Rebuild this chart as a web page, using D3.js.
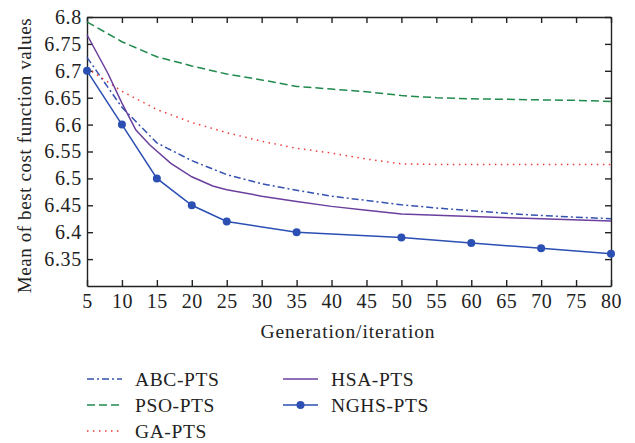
<!DOCTYPE html>
<html>
<head>
<meta charset="utf-8">
<script src="https://cdn.jsdelivr.net/npm/d3@7"></script>
<style>
  body { margin: 0; background: #fff; }
  text { font-family: "Liberation Serif", "Times New Roman", serif; fill: #222; }
</style>
</head>
<body>
<div id="vis-container"></div>
<script>
// chart size and plot box
const width = 635;
const height = 443;
const margin = { left: 87, right: 24, top: 17, bottom: 157 };

// data
const xTicks = [5, 10, 15, 20, 25, 30, 35, 40, 45, 50, 55, 60, 65, 70, 75, 80];
const yTicks = [6.35, 6.4, 6.45, 6.5, 6.55, 6.6, 6.65, 6.7, 6.75, 6.8];

const abcX = [5, 10, 15, 20, 25, 30, 35, 40, 45, 50, 55, 60, 65, 70, 75, 80];
const abcY = [6.725, 6.632, 6.566, 6.533, 6.507, 6.49, 6.478, 6.467, 6.459, 6.451, 6.445, 6.44, 6.435, 6.431, 6.428, 6.425];

const psoX = [5, 10, 15, 20, 25, 30, 35, 40, 45, 50, 55, 60, 65, 70, 75, 80];
const psoY = [6.791, 6.754, 6.726, 6.709, 6.694, 6.683, 6.671, 6.666, 6.661, 6.654, 6.65, 6.648, 6.647, 6.646, 6.645, 6.643];

const gaX = [5, 10, 15, 20, 25, 30, 35, 40, 45, 50, 55, 60, 65, 70, 75, 80];
const gaY = [6.705, 6.662, 6.628, 6.604, 6.585, 6.569, 6.556, 6.547, 6.536, 6.527, 6.526, 6.526, 6.526, 6.526, 6.526, 6.526];

const hsaX = [5, 8, 10, 12, 14, 17, 20, 23, 25, 30, 35, 40, 45, 50, 60, 70, 80];
const hsaY = [6.767, 6.695, 6.64, 6.59, 6.562, 6.528, 6.503, 6.486, 6.479, 6.467, 6.457, 6.448, 6.441, 6.434, 6.429, 6.425, 6.421];

const nghsX = [5, 10, 15, 20, 25, 35, 50, 60, 70, 80];
const nghsY = [6.70, 6.60, 6.50, 6.45, 6.42, 6.40, 6.39, 6.38, 6.37, 6.36];

const seriesNames = ["ABC-PTS", "PSO-PTS", "GA-PTS", "HSA-PTS", "NGHS-PTS"];

const series = [
  { name: seriesNames[0], x: abcX, y: abcY, color: "#3552b0", dash: "7,3,2,3", marker: false },
  { name: seriesNames[1], x: psoX, y: psoY, color: "#1f8a4c", dash: "8,4", marker: false },
  { name: seriesNames[2], x: gaX, y: gaY, color: "#f03a3a", dash: "1.5,4.5", marker: false },
  { name: seriesNames[3], x: hsaX, y: hsaY, color: "#6a3f9e", dash: null, marker: false },
  { name: seriesNames[4], x: nghsX, y: nghsY, color: "#2b4fb3", dash: null, marker: true }
];

const svg = d3.select("#vis-container")
  .append("svg")
  .attr("width", width)
  .attr("height", height);

const xScale = d3.scaleLinear()
  .domain([5, 80])
  .range([margin.left, width - margin.right]);

const yScale = d3.scaleLinear()
  .domain([6.3, 6.8])
  .range([height - margin.bottom, margin.top]);

const plotW = width - margin.left - margin.right;
const plotH = height - margin.top - margin.bottom;

// axes with inward ticks on all four sides
svg.append("g")
  .attr("transform", `translate(0,${height - margin.bottom})`)
  .call(d3.axisBottom(xScale).tickValues(xTicks).tickSizeInner(-6).tickSizeOuter(0).tickPadding(8))
  .call(g => g.selectAll("text").attr("font-size", "20px").style("letter-spacing", "0.5px"));

svg.append("g")
  .attr("transform", `translate(0,${margin.top})`)
  .call(d3.axisTop(xScale).tickValues(xTicks).tickSizeInner(-6).tickSizeOuter(0).tickFormat(""));

svg.append("g")
  .attr("transform", `translate(${margin.left},0)`)
  .call(d3.axisLeft(yScale).tickValues(yTicks).tickSizeInner(-6).tickSizeOuter(0).tickPadding(5).tickFormat(d3.format("")))
  .call(g => g.selectAll("text").attr("font-size", "20px").style("letter-spacing", "0.7px"));

svg.append("g")
  .attr("transform", `translate(${width - margin.right},0)`)
  .call(d3.axisRight(yScale).tickValues(yTicks).tickSizeInner(-6).tickSizeOuter(0).tickFormat(""));

svg.selectAll(".domain, .tick line")
  .attr("stroke", "#222")
  .attr("stroke-width", 1.4);

// axis titles
svg.append("text")
  .attr("x", margin.left + plotW / 2 - 1)
  .attr("y", 338)
  .attr("text-anchor", "middle")
  .attr("font-size", "19.5px")
  .style("letter-spacing", "0.9px")
  .text("Generation/iteration");

svg.append("text")
  .attr("transform", `translate(31,${margin.top + plotH / 2 + 4}) rotate(-90)`)
  .attr("text-anchor", "middle")
  .attr("font-size", "19px")
  .style("letter-spacing", "0.6px")
  .text("Mean of best cost function values");

// lines
const line = d3.line()
  .x(d => xScale(d[0]))
  .y(d => yScale(d[1]));

series.forEach(s => {
  const pts = s.x.map((x, i) => [x, s.y[i]]);
  svg.append("path")
    .datum(pts)
    .attr("fill", "none")
    .attr("stroke", s.color)
    .attr("stroke-width", 1.5)
    .attr("stroke-dasharray", s.dash)
    .attr("d", line);
  if (s.marker) {
    svg.selectAll(null)
      .data(pts)
      .enter()
      .append("circle")
      .attr("cx", d => xScale(d[0]))
      .attr("cy", d => yScale(d[1]))
      .attr("r", 4)
      .attr("fill", s.color);
  }
});

// legend, two columns
const legendPos = [
  { x: 87, y: 379 }, { x: 87, y: 405 }, { x: 87, y: 431 },
  { x: 283, y: 379 }, { x: 283, y: 405 }
];

const legend = svg.append("g");
series.forEach((s, i) => {
  const p = legendPos[i];
  const g = legend.append("g").attr("transform", `translate(${p.x},${p.y})`);
  g.append("line")
    .attr("x1", 0).attr("x2", 35)
    .attr("stroke", s.color)
    .attr("stroke-width", 1.5)
    .attr("stroke-dasharray", s.dash);
  if (s.marker) {
    g.append("circle").attr("cx", 17.5).attr("r", 4).attr("fill", s.color);
  }
  g.append("text")
    .attr("x", 48)
    .attr("y", 6.5)
    .attr("font-size", "19.5px")
    .style("letter-spacing", "0.6px")
    .text(s.name);
});
</script>
</body>
</html>
